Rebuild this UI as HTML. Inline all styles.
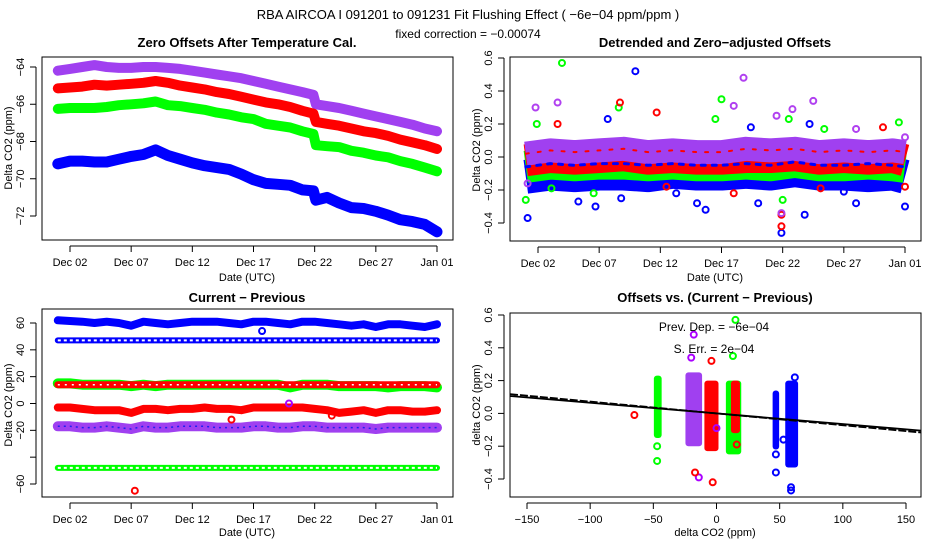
<!DOCTYPE html>
<html><head><meta charset="utf-8"><style>
html,body{margin:0;padding:0;background:#fff;}
svg{display:block;font-family:"Liberation Sans",sans-serif;}
.t{font-size:11px;fill:#000}
.h{font-size:13px;font-weight:bold;fill:#000}
</style></head><body>
<svg id="c" width="936" height="540" viewBox="0 0 936 540" xmlns="http://www.w3.org/2000/svg">
<text x="468" y="19" text-anchor="middle" style="font-size:13px">RBA   AIRCOA I   091201 to 091231   Fit Flushing Effect ( −6e−04 ppm/ppm )</text>
<text x="468" y="38" text-anchor="middle" style="font-size:12px">fixed correction = −0.00074</text>
</svg>
<script>
// ---------- DATA ----------
var p1Times = [0,1,2,3,4,5,6,7,8,9,10,11,12,13,14,15,16,17,18,19,20,20.9,21.1,22,23,24,25,26,27,28,29,30,31];
var p1Magenta = [-64.2,-64.1,-64.0,-63.9,-64.0,-64.05,-64.05,-64.0,-64.0,-64.05,-64.1,-64.2,-64.3,-64.4,-64.5,-64.6,-64.75,-64.9,-65.05,-65.2,-65.35,-65.5,-66.0,-66.1,-66.2,-66.35,-66.5,-66.65,-66.8,-66.95,-67.1,-67.3,-67.45];
var p1Red = [-65.15,-65.1,-65.05,-64.95,-65.0,-64.95,-64.9,-64.85,-64.75,-64.85,-65.0,-65.1,-65.2,-65.35,-65.45,-65.6,-65.75,-65.9,-66.0,-66.15,-66.35,-66.5,-66.95,-67.05,-67.15,-67.3,-67.45,-67.55,-67.7,-67.9,-68.05,-68.2,-68.4];
var p1Green = [-66.25,-66.2,-66.2,-66.2,-66.15,-66.05,-66.0,-65.95,-65.85,-66.05,-66.1,-66.2,-66.3,-66.45,-66.55,-66.7,-66.8,-67.05,-67.15,-67.25,-67.45,-67.6,-68.2,-68.25,-68.3,-68.5,-68.6,-68.75,-68.85,-69.05,-69.2,-69.4,-69.6];
var p1Blue = [-69.2,-69.05,-69.05,-69.1,-69.1,-68.95,-68.8,-68.7,-68.45,-68.75,-68.95,-69.15,-69.3,-69.4,-69.5,-69.75,-70.05,-70.25,-70.3,-70.35,-70.6,-70.65,-71.15,-71.0,-71.3,-71.55,-71.6,-71.75,-71.95,-72.2,-72.3,-72.45,-72.85];
var p1YTicks = [-64,-66,-68,-70,-72];
var dateTicks = [1,6,11,16,21,26,31];
var dateLabels = ["Dec 02","Dec 07","Dec 12","Dec 17","Dec 22","Dec 27","Jan 01"];

var p2Times = [0,2,4,6,8,10,12,14,16,18,20,22,24,26,28,30,31];
var p2BlueCenter = [-0.12,-0.1,-0.11,-0.1,-0.1,-0.11,-0.09,-0.1,-0.1,-0.09,-0.1,-0.08,-0.1,-0.1,-0.11,-0.1,-0.12];
var p2GreenCenter = [-0.06,-0.04,-0.05,-0.04,-0.04,-0.05,-0.04,-0.05,-0.05,-0.04,-0.05,-0.03,-0.05,-0.05,-0.04,-0.05,-0.06];
var p2RedCenter = [-0.02,0.0,-0.01,0.0,0.01,-0.01,0.0,-0.01,-0.01,0.0,0.0,0.01,-0.01,0.0,-0.01,0.0,-0.02];
var p2MagentaCenter = [0.02,0.04,0.03,0.04,0.05,0.03,0.04,0.03,0.03,0.05,0.04,0.05,0.03,0.04,0.03,0.04,0.03];
var p2BlueOutT = [0.15,8.96,6.7,4.3,5.7,14.7,19,20.9,22.8,27,31,12.3,14,18.4,23.2,7.8,26];
var p2BlueOutV = [-0.37,0.52,0.23,-0.27,-0.30,-0.32,-0.28,-0.46,-0.35,-0.28,-0.30,-0.22,-0.28,0.18,0.2,-0.25,-0.21];
var p2GreenOutT = [2.96,16,7.6,0.0,5.55,21,30.5,15.5,21.5,0.9,24.4,2.1];
var p2GreenOutV = [0.57,0.35,0.3,-0.26,-0.22,-0.26,0.21,0.23,0.23,0.2,0.17,-0.19];
var p2RedOutT = [7.7,10.7,2.6,20.9,17,24.1,29.2,11.5,31,20.9];
var p2RedOutV = [0.33,0.27,0.2,-0.42,-0.22,-0.19,0.18,-0.18,-0.18,-0.35];
var p2MagOutT = [17.8,2.6,0.8,23.5,17,21.8,20.5,0.15,20.9,27,31];
var p2MagOutV = [0.48,0.33,0.3,0.34,0.31,0.29,0.25,-0.16,-0.34,0.17,0.12];
var p2YTicks = [0.6,0.4,0.2,0.0,-0.2,-0.4];
var p2YLabels = ["0.6","0.4","0.2","0.0","−0.2","−0.4"];

var p3Times = [0,1,2,3,4,5,6,7,8,9,10,11,12,13,14,15,16,17,18,19,20,21,22,23,24,25,26,27,28,29,30,31];
var p3BlueHigh = [62,61.5,61,60,61,60,58,61,60,59,60,61,61,61,60,59,61,61,60,59,61,61,60,59,58,59,57,59,59,58,57,59];
var p3BlueRing = [47,47,47,47,47,47,47,47,47,47,47,47,47,47,47,47,47,47,47,47,47,47,47,47,47,47,47,47,47,47,47,47];
var p3GreenHigh = [15,15,14,14,14,14,13,14,13,14,14,14,14,14,14,14,14,14,14,12,14,14,14,13,13,13,13,12,13,13,13,12];
var p3RedHigh = [14,14,14,14,14,14,14,14,14,14,14,14,14,14,14,14,14,14,14,14,14,14,14,14,14,14,14,14,14,14,14,14];
var p3RedLow = [-3,-3,-4,-5,-5,-5,-7,-4,-4,-5,-4,-4,-3,-4,-4,-5,-3,-3,-3,-3,-3,-4,-5,-7,-6,-5,-7,-5,-5,-6,-6,-5];
var p3Magenta = [-17,-17,-18,-18,-17,-18,-19,-17,-18,-18,-17,-17,-17,-18,-18,-18,-17,-17,-18,-18,-17,-17,-18,-18,-18,-18,-19,-18,-18,-18,-18,-18];
var p3GreenRing = [-48,-48,-48,-48,-48,-48,-48,-48,-48,-48,-48,-48,-48,-48,-48,-48,-48,-48,-48,-48,-48,-48,-48,-48,-48,-48,-48,-48,-48,-48,-48,-48];
var p3OutT = [6.3,16.7,18.9,14.2,22.4];
var p3OutV = [-65,54,0,-12,-9];
var p3OutC = ["#f00","#00f","#a0f","#f00","#f00"];
var p3YTicks = [60,40,20,0,-20,-40,-60];
var p3YLabels = ["60","40","20","0","−20","","−60"];

var p4ColXmin = [-48,-23,-8,9,13,46,56];
var p4ColXmax = [-45,-13,0,18,17,48,63];
var p4ColYmin = [-0.15,-0.2,-0.23,-0.25,-0.12,-0.22,-0.33];
var p4ColYmax = [0.23,0.25,0.2,0.2,0.2,0.14,0.2];
var p4ColColor = ["#0f0","#a040f0","#f00","#0f0","#f00","#00f","#00f"];
var p4OutX = [-65,-47,-47,-18,-20,-14,-17,-4,-3,15,13,16,47,47,59,59,62,53,0];
var p4OutV = [-0.01,-0.2,-0.29,0.48,0.34,-0.39,-0.36,0.32,-0.42,0.57,0.35,-0.19,-0.36,-0.25,-0.47,-0.45,0.22,-0.16,-0.09];
var p4OutC = ["#f00","#0f0","#0f0","#a0f","#a0f","#a0f","#f00","#f00","#f00","#0f0","#0f0","#f00","#00f","#00f","#00f","#00f","#00f","#00f","#a0f"];
var p4Slopes = [-0.00065,-0.00072];
var p4Intercept = [0.0,0.0];
var p4XTicks = [-150,-100,-50,0,50,100,150];
var p4XLabels = ["−150","−100","−50","0","50","100","150"];

// ---------- HELPERS ----------
var svg = document.getElementById('c');
var NS = "http://www.w3.org/2000/svg";
function mk(tag, attrs){ var e=document.createElementNS(NS,tag); for(var k in attrs) e.setAttribute(k,attrs[k]); svg.appendChild(e); return e; }
function lin(d0,d1,r0,r1){ return function(v){ return r0+(v-d0)*(r1-r0)/(d1-d0); }; }

function box(x0,y0,x1,y1,name){
  var r=mk('rect',{x:x0,y:y0,width:x1-x0,height:y1-y0,fill:'none',stroke:'#000','stroke-width':1});
  
  
}
function title(x,y,s,name){
  var t=mk('text',{x:x,y:y,'text-anchor':'middle','class':'h'}); t.textContent=s;
  
  
}
function yAxis(x0,sy,ticks,labels,name){
  var g=mk('g',{});
  
  
  var ys=ticks.map(sy);
  mk('line',{x1:x0-6,x2:x0-6,y1:Math.min.apply(null,ys),y2:Math.max.apply(null,ys),stroke:'#000'});
  ticks.forEach(function(v,i){
    var y=sy(v);
    var l=mk('line',{x1:x0-6,x2:x0-12,y1:y,y2:y,stroke:'#000'});
    
    
    if(labels[i]){
      var t=mk('text',{x:x0-18,y:y,'text-anchor':'middle','class':'t',transform:'rotate(-90 '+(x0-18)+' '+y+')'});
      t.textContent=labels[i];
      
      
    }
  });
}
function xAxis(y0,sx,ticks,labels,name){
  var g=mk('g',{});
  
  
  var xs=ticks.map(sx);
  mk('line',{x1:Math.min.apply(null,xs),x2:Math.max.apply(null,xs),y1:y0+6,y2:y0+6,stroke:'#000'});
  ticks.forEach(function(v,i){
    var x=sx(v);
    var l=mk('line',{x1:x,x2:x,y1:y0+6,y2:y0+12,stroke:'#000'});
    
    
    var t=mk('text',{x:x,y:y0+26,'text-anchor':'middle','class':'t'}); t.textContent=labels[i];
    
    
  });
}
function label(x,y,s,rot,name){
  var t=mk('text',{x:x,y:y,'text-anchor':'middle','class':'t'});
  if(rot) t.setAttribute('transform','rotate(-90 '+x+' '+y+')');
  t.textContent=s;
  
  
}
function band(ts,vs,sx,sy,color,w,name,dash,cap){
  var pts=ts.map(function(t,i){return sx(t).toFixed(1)+','+sy(vs[i]).toFixed(1);}).join(' ');
  var p=mk('polyline',{points:pts,fill:'none',stroke:color,'stroke-width':w,'stroke-linejoin':'round','stroke-linecap':cap||'round'});
  if(dash) p.setAttribute('stroke-dasharray',dash);
  
  
}
function ring(x,y,color,name){
  var c=mk('circle',{cx:x,cy:y,r:3,fill:'none',stroke:color,'stroke-width':2});
  
  
}

// ---------- PANEL 1 ----------
var sx1=lin(1,31,70,437), sy1=lin(-64,-72,67,216);
box(42,57,453,240,'offsets-plot-frame');
title(247,47,'Zero Offsets After Temperature Cal.','offsets-plot-title');
band(p1Times,p1Magenta,sx1,sy1,'#a040f0',10,'series-magenta-offsets');
band(p1Times,p1Red,sx1,sy1,'#f00',10,'series-red-offsets');
band(p1Times,p1Green,sx1,sy1,'#0f0',10,'series-green-offsets');
band(p1Times,p1Blue,sx1,sy1,'#00f',11,'series-blue-offsets');
yAxis(42,sy1,p1YTicks,p1YTicks.map(function(v){return '−'+Math.abs(v);}),'offsets-y-axis');
xAxis(240,sx1,dateTicks,dateLabels,'offsets-x-axis');
label(247,281,'Date (UTC)',false,'offsets-x-title');
label(12,148,'Delta CO2 (ppm)',true,'offsets-y-title');

// ---------- PANEL 2 ----------
var sx2=lin(1,31,538,905), sy2=lin(0.6,-0.4,58,223);
box(510,57,921,241,'detrended-plot-frame');
title(715,47,'Detrended and Zero−adjusted Offsets','detrended-plot-title');
band(p2Times,p2BlueCenter,sx2,sy2,'#00f',34,'series-blue-detrended',null,'butt');
band(p2Times,p2GreenCenter,sx2,sy2,'#0f0',32,'series-green-detrended',null,'butt');
band(p2Times,p2RedCenter,sx2,sy2,'#f00',32,'series-red-detrended',null,'butt');
band(p2Times,p2MagentaCenter,sx2,sy2,'#a040f0',24,'series-magenta-detrended',null,'butt');
band(p2Times,p2MagentaCenter,sx2,sy2,'#f00',2,'series-red-detrended-inner','3 9',null);
band(p2Times,p2GreenCenter,sx2,sy2,'#00f',3,'series-blue-detrended-inner','4 7',null);
p2BlueOutT.forEach(function(t,i){ ring(sx2(t),sy2(p2BlueOutV[i]),'#00f','blue-outlier'); });
p2GreenOutT.forEach(function(t,i){ ring(sx2(t),sy2(p2GreenOutV[i]),'#0f0','green-outlier'); });
p2RedOutT.forEach(function(t,i){ ring(sx2(t),sy2(p2RedOutV[i]),'#f00','red-outlier'); });
p2MagOutT.forEach(function(t,i){ ring(sx2(t),sy2(p2MagOutV[i]),'#b040f0','magenta-outlier'); });
yAxis(510,sy2,p2YTicks,p2YLabels,'detrended-y-axis');
xAxis(241,sx2,dateTicks,dateLabels,'detrended-x-axis');
label(715,281,'Date (UTC)',false,'detrended-x-title');
label(480,150,'Delta CO2 (ppm)',true,'detrended-y-title');

// ---------- PANEL 3 ----------
var sx3=lin(1,31,70,437), sy3=lin(60,-60,323,484);
box(42,309,453,497,'diff-plot-frame');
title(247,302,'Current − Previous','diff-plot-title');
band(p3Times,p3BlueHigh,sx3,sy3,'#00f',8,'series-blue-high');
band(p3Times,p3BlueRing,sx3,sy3,'#00f',6,'series-blue-ring');
band(p3Times,p3BlueRing,sx3,sy3,'#fff',2,'series-blue-ring-inner','3 3','butt');
band(p3Times,p3GreenHigh,sx3,sy3,'#0f0',10,'series-green-high');
band(p3Times,p3RedHigh,sx3,sy3,'#f00',7,'series-red-high');
band(p3Times,p3RedHigh,sx3,sy3,'#fff',1.5,'series-red-high-inner','2 5','butt');
band(p3Times,p3RedLow,sx3,sy3,'#f00',8,'series-red-low');
band(p3Times,p3Magenta,sx3,sy3,'#a040f0',10,'series-magenta-low');
band(p3Times,p3Magenta,sx3,sy3,'#2020f0',1.5,'series-magenta-low-inner','2 4','butt');
band(p3Times,p3GreenRing,sx3,sy3,'#0f0',6,'series-green-ring');
band(p3Times,p3GreenRing,sx3,sy3,'#fff',2,'series-green-ring-inner','3 3','butt');
p3OutT.forEach(function(t,i){ ring(sx3(t),sy3(p3OutV[i]),p3OutC[i],'diff-outlier'); });
yAxis(42,sy3,p3YTicks,p3YLabels,'diff-y-axis');
xAxis(497,sx3,dateTicks,dateLabels,'diff-x-axis');
label(247,536,'Date (UTC)',false,'diff-x-title');
label(12,405,'Delta CO2 (ppm)',true,'diff-y-title');

// ---------- PANEL 4 ----------
function sx4inv(px){ return -150+(px-527)*300/379; }
var sx4=lin(-150,150,527,906), sy4=lin(0.6,-0.4,315,479);
box(510,313,921,497,'scatter-plot-frame');
title(715,302,'Offsets vs. (Current − Previous)','scatter-plot-title');
p4ColXmin.forEach(function(x0,i){
  var x=sx4(x0), w=sx4(p4ColXmax[i])-x, y=sy4(p4ColYmax[i]), h=sy4(p4ColYmin[i])-y;
  var r=mk('rect',{x:x-2,y:y,width:w+4,height:h,rx:3,fill:p4ColColor[i]});
  
  
});
p4OutX.forEach(function(x,i){ ring(sx4(x),sy4(p4OutV[i]),p4OutC[i],'scatter-outlier'); });
p4Slopes.forEach(function(s,i){
  var l=mk('line',{x1:510,x2:921,y1:sy4(p4Intercept[i]+s*sx4inv(510)),y2:sy4(p4Intercept[i]+s*sx4inv(921)),stroke:'#000','stroke-width':1.8});
  if(i==1) l.setAttribute('stroke-dasharray','8 2');
  
  
});
yAxis(510,sy4,p2YTicks,p2YLabels,'scatter-y-axis');
xAxis(497,sx4,p4XTicks,p4XLabels,'scatter-x-axis');
label(715,536,'delta CO2 (ppm)',false,'scatter-x-title');
label(480,405,'delta CO2 (ppm)',true,'scatter-y-title');
var a1=mk('text',{x:714,y:331,'text-anchor':'middle',style:'font-size:12px'}); a1.textContent='Prev. Dep. =  −6e−04';


var a2=mk('text',{x:714,y:353,'text-anchor':'middle',style:'font-size:12px'}); a2.textContent='S. Err. =  2e−04';


</script>
</body></html>
